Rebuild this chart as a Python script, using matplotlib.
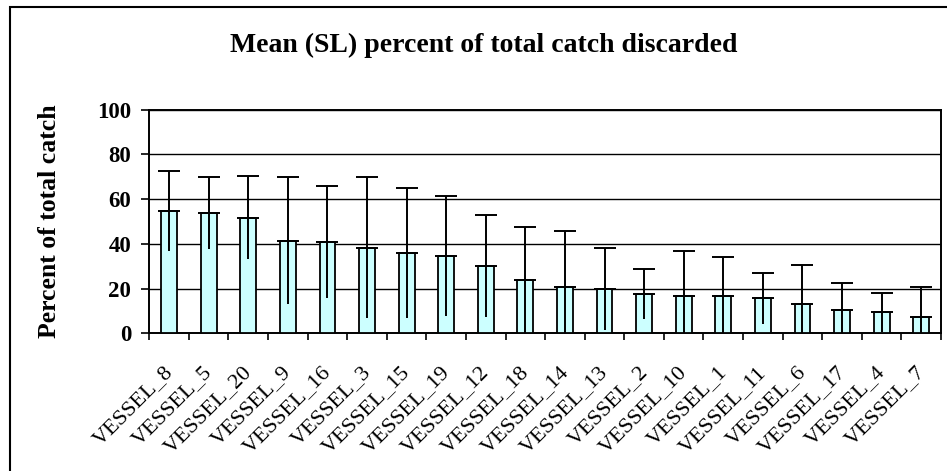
import matplotlib
matplotlib.use("Agg")
import matplotlib.pyplot as plt
import matplotlib.patches as patches
import matplotlib.transforms as mtransforms
import numpy as np

vessels = ["VESSEL_8", "VESSEL_5", "VESSEL_20", "VESSEL_9", "VESSEL_16", "VESSEL_3",
           "VESSEL_15", "VESSEL_19", "VESSEL_12", "VESSEL_18", "VESSEL_14", "VESSEL_13",
           "VESSEL_2", "VESSEL_10", "VESSEL_1", "VESSEL_11", "VESSEL_6", "VESSEL_17",
           "VESSEL_4", "VESSEL_7"]
mean_pct = [54.7, 53.9, 51.7, 41.4, 40.8, 38.3, 35.8, 34.6, 30.2, 23.8,
            20.6, 19.8, 17.6, 16.8, 16.8, 15.6, 13.1, 10.6, 9.4, 7.4]
sd_pct = [17.8, 16.0, 18.6, 28.5, 25.0, 31.5, 29.0, 27.0, 22.7, 23.9,
          25.2, 18.5, 11.3, 20.1, 17.2, 11.3, 17.6, 12.0, 8.7, 13.3]
yticks = [0, 20, 40, 60, 80, 100]

plt.rcParams['font.family'] = ['Liberation Serif', 'DejaVu Serif']

fig = plt.figure(figsize=(9.47, 4.71), dpi=100)
ax = fig.add_axes([149.3/947, 1-333.3/471, 791.7/947, 223.6/471])

x = np.arange(len(vessels))
mean = np.array(mean_pct)
sd = np.array(sd_pct)
zeros = np.zeros(len(x))

ax.bar(x, mean, width=0.4, color="#CCFFFF", edgecolor="black", linewidth=1.3, zorder=3)
# lower half: plain line, upper half: capped
ax.errorbar(x, mean, yerr=[sd, zeros], fmt="none", ecolor="black", elinewidth=1.4,
            capsize=0, zorder=4)
ax.errorbar(x, mean, yerr=[zeros, sd], fmt="none", ecolor="black", elinewidth=1.4,
            capsize=8, capthick=1.4, zorder=4)

ax.set_xlim(-0.5, len(x) - 0.5)
ax.set_ylim(0, 100)
ax.set_yticks(yticks)
ax.set_yticklabels([str(v) for v in yticks], fontsize=16.5, fontweight="bold")
ax.yaxis.grid(True, color="black", linewidth=1.0, zorder=0)
ax.set_axisbelow(True)

ax.set_xticks(np.arange(len(x) + 1) - 0.5)
ax.set_xticklabels([])
ax.set_xticks(x, minor=True)
ax.set_xticklabels(vessels, minor=True, rotation=45, ha="right", va="baseline",
                   rotation_mode="anchor", fontsize=16)
ax.tick_params(axis="x", which="major", direction="out", length=5, width=1.2)
ax.tick_params(axis="x", which="minor", length=0, pad=28.5)
ax.tick_params(axis="y", direction="out", length=6, width=1.2, pad=7)

shift = mtransforms.ScaledTranslation(0.038, 0, fig.dpi_scale_trans)
for lbl in ax.get_xticklabels(minor=True):
    lbl.set_transform(lbl.get_transform() + shift)

for s in ax.spines.values():
    s.set_linewidth(1.4)

fig.text(484/947, 1-51.7/471, "Mean (SL) percent of total catch discarded",
         ha="center", va="baseline", fontsize=20, fontweight="bold")
fig.text(50/947, 0.5 * ((1-109.7/471) + (1-333.3/471)), "Percent of total catch",
         rotation=90, ha="center", va="center", fontsize=18.5, fontweight="bold")

frame = patches.Rectangle((10/947, -0.05), 1.0, 1.05 - 6.5/471, transform=fig.transFigure,
                          fill=False, edgecolor="black", linewidth=1.5)
fig.patches.append(frame)

plt.savefig("out.png", dpi=100)
